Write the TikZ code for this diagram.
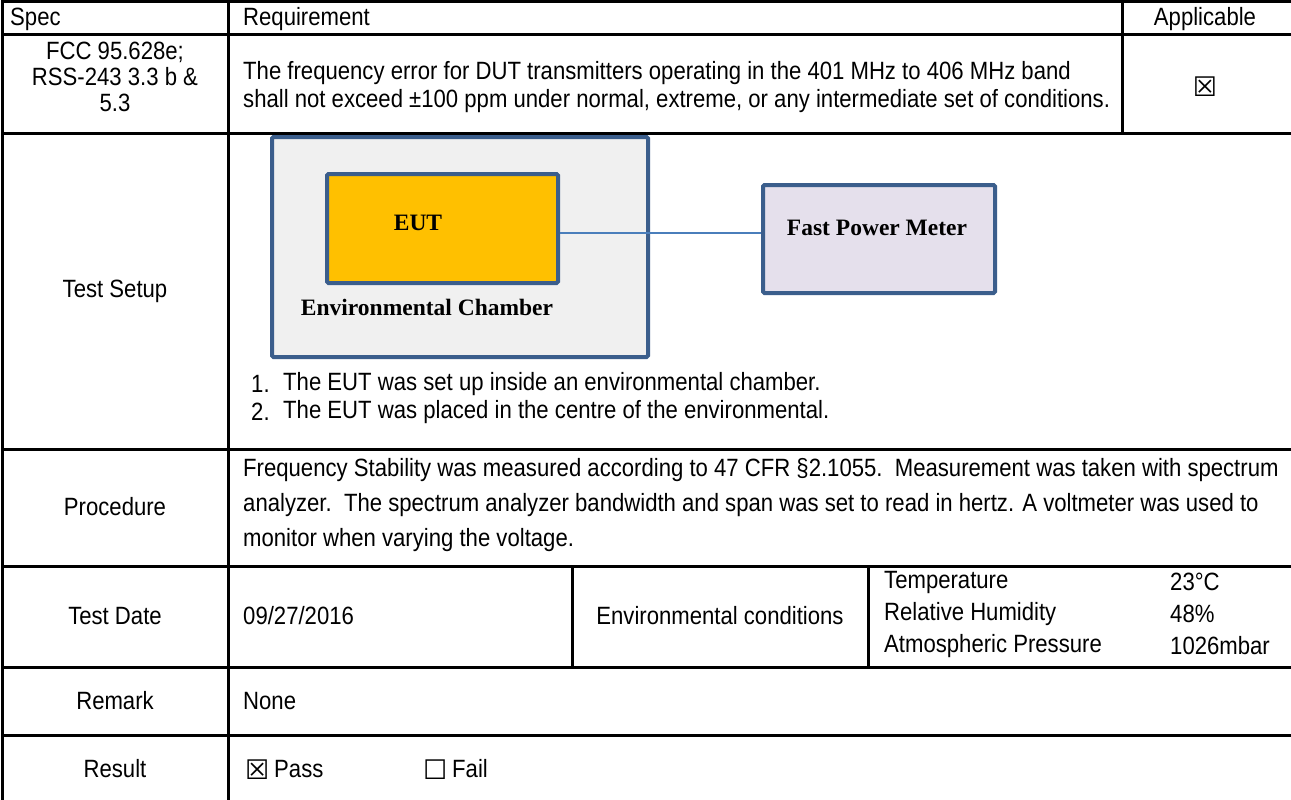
\documentclass[tikz,border=0pt]{standalone}
\usepackage{fontspec}
\setmainfont{Liberation Sans}[FakeStretch=0.885]
\newfontfamily\serifb{Liberation Serif}
\newfontfamily\symf{DejaVu Sans}
\definecolor{boxblue}{HTML}{3B5E8C}
\definecolor{linkblue}{HTML}{4A7EBB}
\definecolor{chamberfill}{HTML}{F0F0F0}
\definecolor{eutfill}{HTML}{FFC000}
\definecolor{meterfill}{HTML}{E5E0EC}
\tikzset{
  tbl/.style={line width=3pt, black},
  txt/.style={inner sep=0pt, font=\fontsize{25}{28}\selectfont},
  lft/.style={txt, anchor=west, align=left},
  ctr/.style={txt, align=center},
  shapebox/.style={draw=boxblue, line width=4pt, rounded corners=1.5pt},
  boldlbl/.style={inner sep=0pt, font=\serifb\bfseries\fontsize{23.5}{28}\selectfont},
  chk/.style={inner sep=0pt, font=\symf\fontsize{27}{27}\selectfont}
}
\begin{document}
\begin{tikzpicture}[x=1pt,y=-1pt]
\useasboundingbox (0,0) rectangle (1291,800);
\fill[white] (0,0) rectangle (1291,800);
% table grid
\draw[tbl] (2,2) -- (1295,2);
\draw[tbl] (2,35) -- (1295,35);
\draw[tbl] (2,133) -- (1295,133);
\draw[tbl] (2,449) -- (1295,449);
\draw[tbl] (2,566) -- (1295,566);
\draw[tbl] (2,667) -- (1295,667);
\draw[tbl] (2,735) -- (1295,735);
\draw[tbl] (2,0.5) -- (2,805);
\draw[tbl] (228,0.5) -- (228,805);
\draw[tbl] (1122,2) -- (1122,133);
\draw[tbl] (572,566) -- (572,667);
\draw[tbl] (868,566) -- (868,667);
% header
\node[lft] (hspec) at (10,19) {Spec};
\node[lft] (hreq) at (243,19) {Requirement};
\node[ctr] (happ) at (1205,19) {Applicable};
% row 1
\node[ctr, font=\fontsize{25}{26}\selectfont] (spec) at (115,77) {FCC 95.628e;\\RSS-243 3.3 b \&\\5.3};
\node[lft] (req) at (243,87) {The frequency error for DUT transmitters operating in the 401 MHz to 406 MHz band\\shall not exceed ±100 ppm under normal, extreme, or any intermediate set of conditions.};
\node[chk] (appbox) at (1205,87) {☒};
% row 2
\node[ctr] (setup) at (115,291) {Test Setup};
\node[shapebox, fill=chamberfill, minimum width=376pt, minimum height=220pt] (chamber) at (460,247) {};
\node[shapebox, fill=eutfill, minimum width=231pt, minimum height=109pt] (eut) at (442.5,228.5) {};
\node[shapebox, fill=meterfill, minimum width=232pt, minimum height=108pt] (meter) at (879,239) {};
\node[boldlbl] (eutlbl) at (418,223) {EUT};
\node[boldlbl] (chamberlbl) at (427,307) {Environmental Chamber};
\node[boldlbl] (meterlbl) at (877,228) {Fast Power Meter};
\draw[linkblue, line width=1.3pt] (eut.east |- 0,233) -- (meter.west |- 0,233);
\node[lft] (n1) at (251,384) {1.};
\node[lft] (l1) at (283,384) {The EUT was set up inside an environmental chamber.};
\node[lft] (n2) at (251,412) {2.};
\node[lft] (l2) at (283,412) {The EUT was placed in the centre of the environmental.};
% row 3
\node[ctr] (proc) at (115,507) {Procedure};
\node[lft, font=\fontsize{25}{35}\selectfont] (proctxt) at (243,505) {Frequency Stability was measured according to 47 CFR §2.1055.\ \ Measurement was taken with spectrum\\analyzer.\ \ The spectrum analyzer bandwidth and span was set to read in hertz. A voltmeter was used to\\monitor when varying the voltage.};
% row 4
\node[ctr] (date) at (115,616) {Test Date};
\node[lft] (dateval) at (243,616) {09/27/2016};
\node[ctr] (env) at (720,616) {Environmental conditions};
\node[lft] (t1) at (884,582) {Temperature};
\node[lft] (t2) at (884,614) {Relative Humidity};
\node[lft] (t3) at (884,646) {Atmospheric Pressure};
\node[lft] (v1) at (1170,582) {23°C};
\node[lft] (v2) at (1170,614) {48\%};
\node[lft] (v3) at (1170,646) {1026mbar};
% row 5
\node[ctr] (remark) at (115,701) {Remark};
\node[lft] (none) at (243,701) {None};
% row 6
\node[ctr] (result) at (115,769) {Result};
\node[chk, anchor=west] (passbox) at (245,770) {☒};
\node[lft] (pass) at (274,769) {Pass};
\node[chk, anchor=west] (failbox) at (423,770) {☐};
\node[lft] (fail) at (452,769) {Fail};
\end{tikzpicture}
\end{document}
